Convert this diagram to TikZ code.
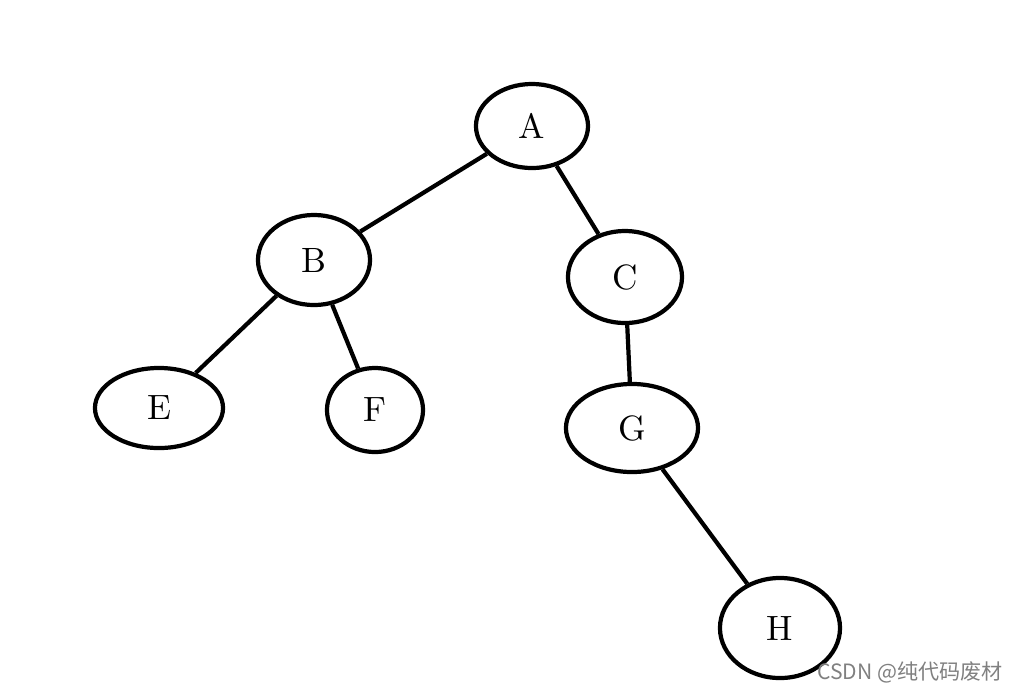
\documentclass[tikz,border=0pt]{standalone}
\usepackage{fontspec}
\newfontfamily\cjk{Noto Sans CJK SC}
\usetikzlibrary{shapes.geometric}
\begin{document}
\begin{tikzpicture}[x=0.01cm,y=-0.01cm,
    knoten/.style={draw,ellipse,line width=1.2pt,inner sep=0pt},
    kante/.style={line width=1.2pt}]
            \useasboundingbox (0,0) rectangle (1029,693);
            % Knoten
            \node[knoten,minimum width=1.12cm,minimum height=0.84cm] (A) at (532,126) {A};
            \node[knoten,minimum width=1.12cm,minimum height=0.90cm] (B) at (314,260) {B};
            \node[knoten,minimum width=1.14cm,minimum height=0.92cm] (C) at (625,277) {C};
            \node[knoten,minimum width=1.28cm,minimum height=0.80cm] (E) at (159,408) {E};
            \node[knoten,minimum width=0.96cm,minimum height=0.84cm] (F) at (375,410) {F};
            \node[knoten,minimum width=1.32cm,minimum height=0.88cm] (G) at (632,428) {G};
            \node[knoten,minimum width=1.20cm,minimum height=1.00cm] (H) at (780,628) {H};
            % Kanten
            \draw[kante] (A) -- (B);
            \draw[kante] (A) -- (C);
            \draw[kante] (B) -- (E);
            \draw[kante] (B) -- (F);
            \draw[kante] (C) -- (G);
            \draw[kante] (G) -- (H);
            % Wasserzeichen
            \node[text=gray,font=\cjk\fontsize{6}{7}\selectfont,anchor=east] (wm) at (1015,672) {CSDN @纯代码废材};
\end{tikzpicture}
\end{document}
